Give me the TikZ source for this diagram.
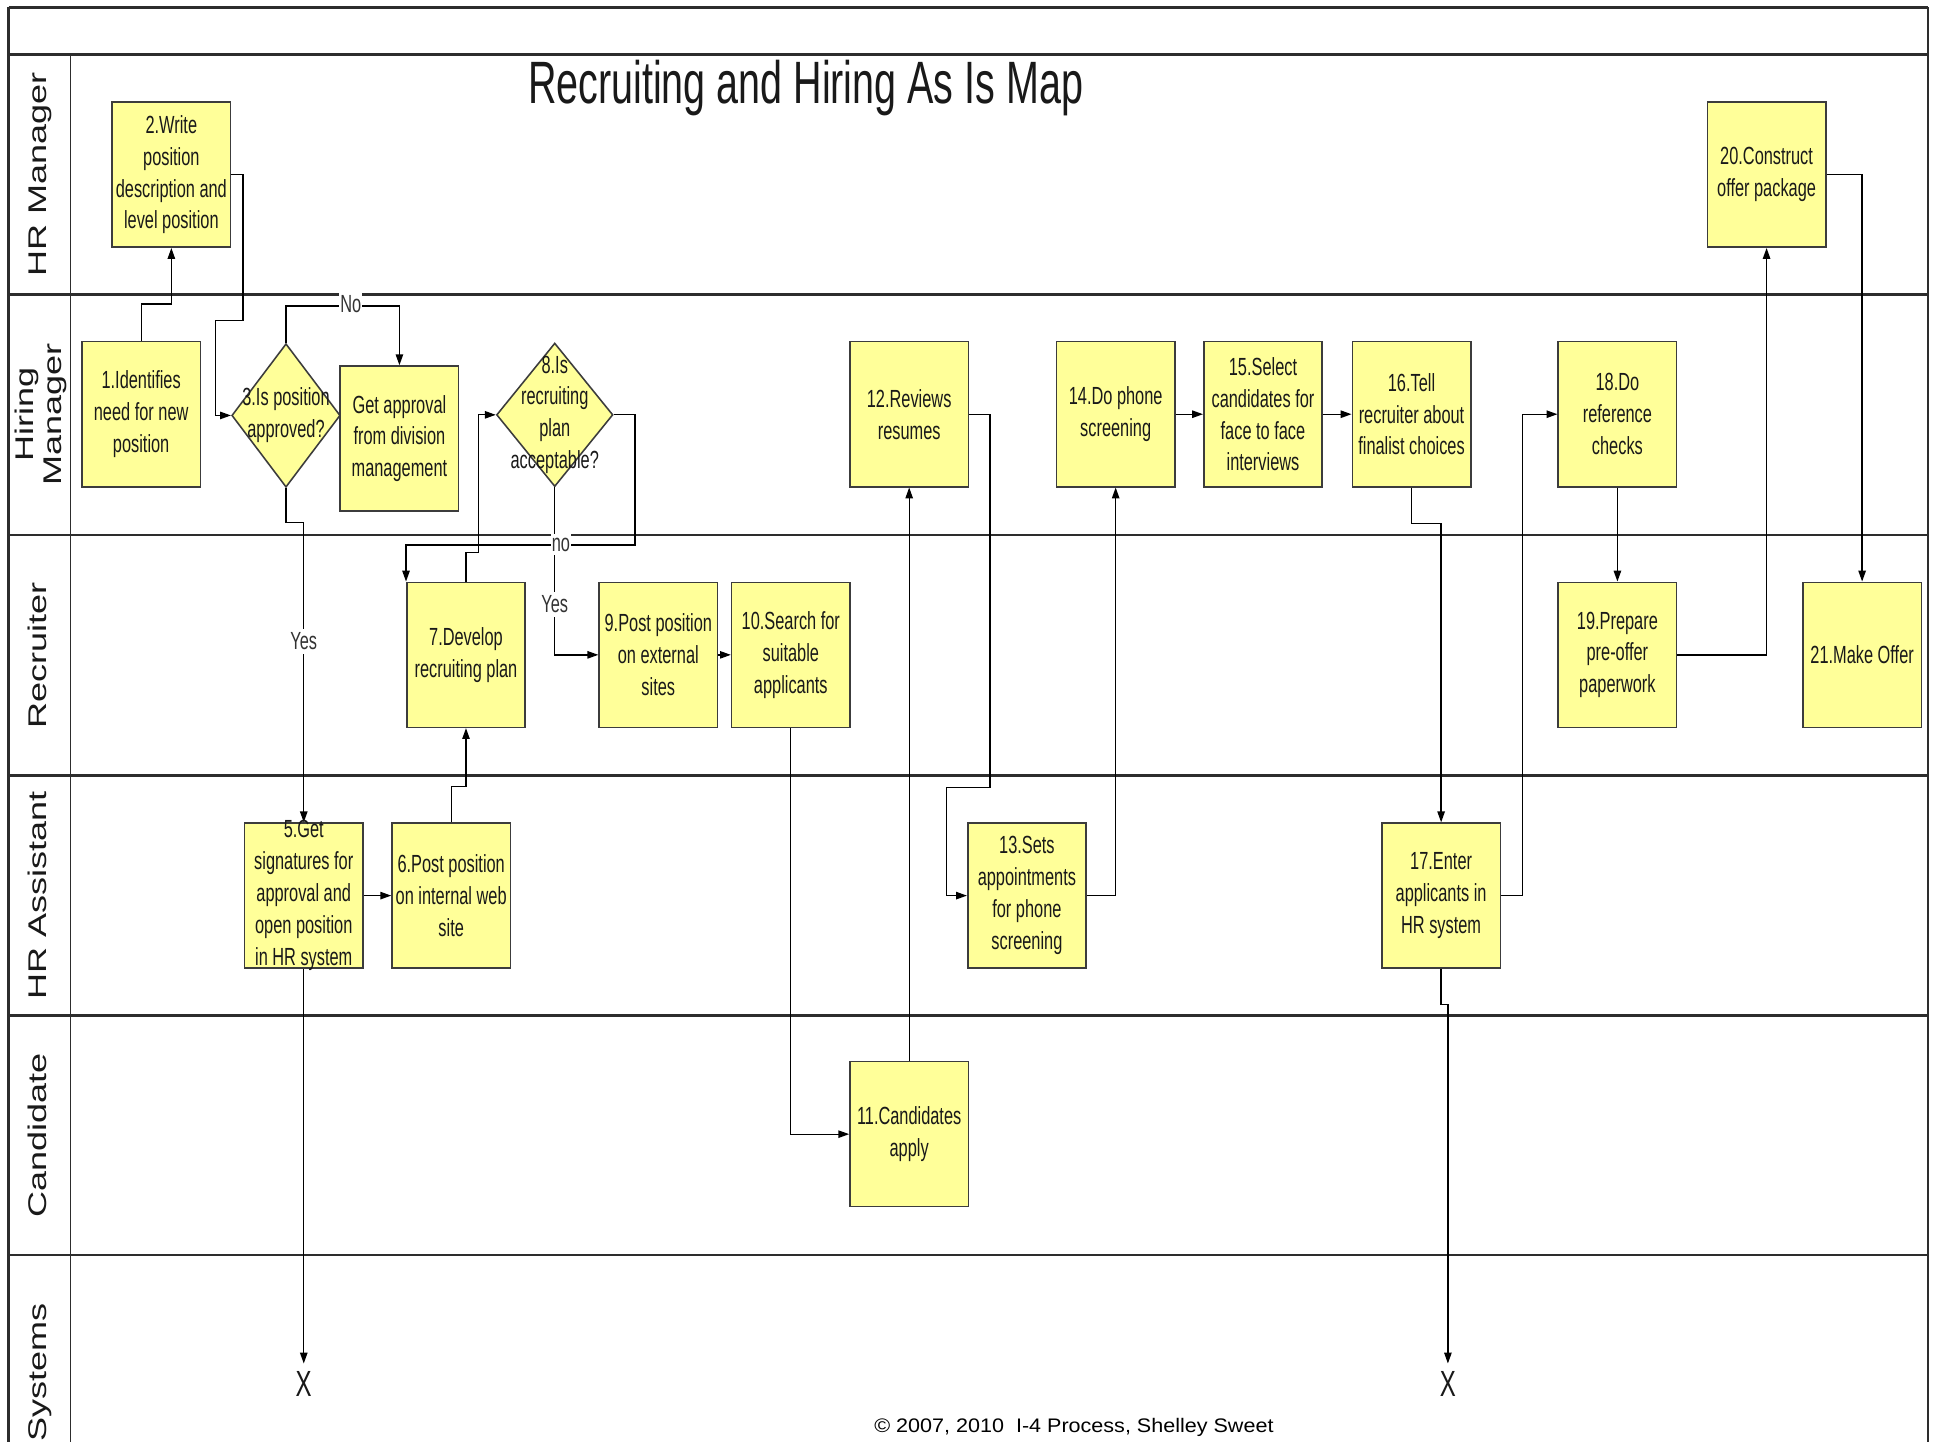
\documentclass[tikz,border=0pt]{standalone}
\usepackage{fontspec}
\setmainfont{Liberation Sans}
\newfontfamily\boxfont[FakeStretch=0.66]{Liberation Sans}
\newfontfamily\lanefont[FakeStretch=1.41]{Liberation Sans}
\newfontfamily\footfont[FakeStretch=1.1]{Liberation Sans}
\usetikzlibrary{arrows.meta,shapes.geometric}

\definecolor{stepfill}{RGB}{255,255,153}
\definecolor{stepline}{RGB}{60,60,60}
\definecolor{laneline}{RGB}{45,45,45}
\definecolor{inktext}{RGB}{25,25,25}

\tikzset{
  lanerule/.style={draw=laneline, line width=1.6pt},
  thinrule/.style={draw=laneline, line width=0.8pt},
  stepbox/.style={rectangle, draw=stepline, fill=stepfill, line width=0.9pt,
    minimum width=2.4cm, minimum height=2.94cm, inner sep=0pt},
  decision/.style={diamond, draw=stepline, fill=stepfill, line width=0.9pt,
    minimum height=2.91cm, inner sep=0pt},
  steptext/.style={font=\boxfont\fontsize{14.3}{18.4}\selectfont, text=inktext,
    align=center, inner sep=0pt},
  flow/.style={draw=black, line width=0.75pt, -{Triangle[length=2.2mm,width=1.5mm]}},
  branch/.style={font=\boxfont\fontsize{14.3}{18.4}\selectfont, text=black!80,
    fill=white, inner xsep=0.6pt, inner ysep=2.2pt},
  lanetitle/.style={font=\lanefont\fontsize{14.75}{16.3}\selectfont, rotate=90,
    inner sep=0pt, text=inktext, align=center},
  endmark/.style={font=\boxfont\fontsize{21}{21}\selectfont, inner sep=0pt,
    outer sep=0.17cm, text=inktext},
}

\begin{document}
\begin{tikzpicture}[x=0.025cm, y=-0.025cm]
\clip (0,0) rectangle (1568,1169);
\fill[white] (0,0) rectangle (1568,1169);

% swimlane frame
\foreach \yy in {6,44,239,434,629,824,1018}
  \draw[lanerule] (7,\yy) -- (1564,\yy);
\draw[lanerule] (7,6) -- (7,1200);
\draw[lanerule] (1564,6) -- (1564,1200);
\draw[thinrule] (57,44) -- (57,1200);

% lane titles
\node[lanetitle, anchor=base] (lhrm) at (37.9,141.5) {HR Manager};
\node[lanetitle, anchor=center] (lhim) at (33.3,336.5) {Hiring\\Manager};
\node[lanetitle, anchor=base] (lrec) at (37.9,531.5) {Recruiter};
\node[lanetitle, anchor=base] (lhra) at (37.9,726.5) {HR Assistant};
\node[lanetitle, anchor=base] (lcan) at (37.9,921) {Candidate};
\node[lanetitle, anchor=base] (lsys) at (37.9,1113) {Systems};

% heading and footer
\node[anchor=base, font=\boxfont\fontsize{34.5}{40}\selectfont, inner sep=0pt, text=inktext]
  (title) at (653.5,84) {Recruiting and Hiring As Is Map};
\node[anchor=base west, font=\footfont\fontsize{11.3}{13}\selectfont, inner sep=0pt]
  (foot) at (709,1162) {© 2007, 2010\ \ I-4 Process, Shelley Sweet};

% process steps
\node[stepbox] (b2)  at (139,141.7)   {};
\node[stepbox] (b20) at (1433,141.7)  {};
\node[stepbox] (b1)  at (114.5,336)   {};
\node[decision, minimum width=2.2cm] (d3) at (232,337) {};
\node[stepbox] (ga)  at (324,355.7)   {};
\node[decision, minimum width=2.36cm] (d8) at (450,336.5) {};
\node[stepbox] (b12) at (737.5,336)   {};
\node[stepbox] (b14) at (905,336)     {};
\node[stepbox] (b15) at (1024.5,336)  {};
\node[stepbox] (b16) at (1145,336)    {};
\node[stepbox] (b18) at (1312,336)    {};
\node[stepbox] (b7)  at (378,531.2)   {};
\node[stepbox] (b9)  at (534,531.2)   {};
\node[stepbox] (b10) at (641.5,531.2) {};
\node[stepbox] (b19) at (1312,531.2)  {};
\node[stepbox] (b21) at (1510.5,531.2) {};
\node[stepbox] (b5)  at (246.4,726.5) {};
\node[stepbox] (b6)  at (366,726.5)   {};
\node[stepbox] (b13) at (833,726.5)   {};
\node[stepbox] (b17) at (1169,726.5)  {};
\node[stepbox] (b11) at (737.5,920)   {};

% end markers
\node[endmark] (x1) at (246.4,1123) {X};
\node[endmark] (x2) at (1174.5,1123) {X};

% connectors
\coordinate (j2a) at (197,260);
\coordinate (j2b) at (175,260);
\coordinate (j7)  at (388,448);
\coordinate (j8)  at (515,442);
\coordinate (j12a) at (803,639);
\coordinate (j12b) at (768,639);
\coordinate (j17) at (1235,336);

\draw[flow] (b1.north) -- ++(0,-30) -| (b2.south);
\draw[flow] (b2.east) -| (j2a) -- (j2b) |- (d3.west);
\draw[flow] (d3.north) -- ++(0,-30) -| (ga.north);
\draw[flow] (d3.south) -- ++(0,28) -| (b5.north);
\draw[flow] (b5.east) -- (b6.west);
\draw[flow] (b6.north) -- ++(0,-29) -| (b7.south);
\draw[flow] (b7.north) |- (j7) |- (d8.west);
\draw[flow] (d8.east) -| (j8) -| (b7.north west);
\draw[flow] (d8.south) |- (b9.west);
\draw[flow] (b9.east) -- (b10.west);
\draw[flow] (b10.south) |- (b11.west);
\draw[flow] (b11.north) -- (b12.south);
\draw[flow] (b12.east) -| (j12a) -- (j12b) |- (b13.west);
\draw[flow] (b13.east) -| (b14.south);
\draw[flow] (b14.east) -- (b15.west);
\draw[flow] (b15.east) -- (b16.west);
\draw[flow] (b16.south) -- ++(0,29) -| (b17.north);
\draw[flow] (b17.east) -| (j17) -- (b18.west);
\draw[flow] (b18.south) -- (b19.north);
\draw[flow] (b19.east) -| (b20.south);
\draw[flow] (b20.east) -| (b21.north);
\draw[flow] (b5.south) -- (x1.north);
\draw[flow] (b17.south) -- ++(0,29) -| (x2.north);

% branch labels
\node[branch] (lno3)  at (284.5,247) {No};
\node[branch] (lyes3) at (246.4,520) {Yes};
\node[branch] (lno8)  at (455,442)   {no};
\node[branch] (lyes8) at (450,490)   {Yes};

% step texts
\node[steptext] at (b2)  {2.Write\\position\\description and\\level position};
\node[steptext] at (b20) {20.Construct\\offer package};
\node[steptext] at (b1)  {1.Identifies\\need for new\\position};
\node[steptext] at (d3)  {3.Is position\\approved?};
\node[steptext] at (ga)  {Get approval\\from division\\management};
\node[steptext] at (d8)  {8.Is\\recruiting\\plan\\acceptable?};
\node[steptext] at (b12) {12.Reviews\\resumes};
\node[steptext] at (b14) {14.Do phone\\screening};
\node[steptext] at (b15) {15.Select\\candidates for\\face to face\\interviews};
\node[steptext] at (b16) {16.Tell\\recruiter about\\finalist choices};
\node[steptext] at (b18) {18.Do\\reference\\checks};
\node[steptext] at (b7)  {7.Develop\\recruiting plan};
\node[steptext] at (b9)  {9.Post position\\on external\\sites};
\node[steptext] at (b10) {10.Search for\\suitable\\applicants};
\node[steptext] at (b19) {19.Prepare\\pre-offer\\paperwork};
\node[steptext] at (b21) {21.Make Offer};
\node[steptext] at (b5)  {5.Get\\signatures for\\approval and\\open position\\in HR system};
\node[steptext] at (b6)  {6.Post position\\on internal web\\site};
\node[steptext] at (b13) {13.Sets\\appointments\\for phone\\screening};
\node[steptext] at (b17) {17.Enter\\applicants in\\HR system};
\node[steptext] at (b11) {11.Candidates\\apply};
\end{tikzpicture}
\end{document}
